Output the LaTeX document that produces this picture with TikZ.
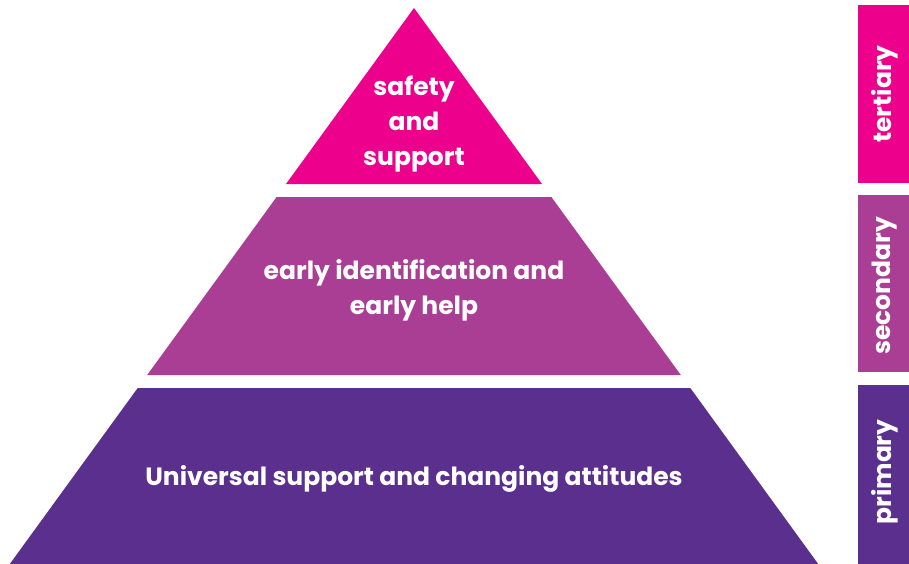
\documentclass[tikz,border=0pt]{standalone}
\usepackage{fontspec}
\setmainfont{Poppins}
\usetikzlibrary{positioning}
\definecolor{tertcol}{RGB}{236,0,140}
\definecolor{seccol}{RGB}{169,62,148}
\definecolor{primcol}{RGB}{91,47,141}
\tikzset{
  % lvl style is used for the white texts inside the pyramid
  lvl/.style={text=white, align=center, inner sep=0pt, font=\fontsize{25}{35}\selectfont\bfseries},
  % tag style is used for the turned labels of the side bars
  tag/.style={text=white, rotate=90, inner sep=0pt, font=\fontsize{25}{26}\selectfont\bfseries}}

\begin{document}
\begin{tikzpicture}[x=1pt, y=-1pt]
\useasboundingbox (0,0) rectangle (909,564);

% pyramid, one band after the other
\fill [tertcol] (414,8) -- (542,184) -- (286,184) -- cycle;
\fill [seccol] (276.6,197) -- (551.4,197) -- (680.8,375) -- (147.2,375) -- cycle;
\fill [primcol] (137.7,388) -- (690.3,388) -- (818.2,564) -- (9.8,564) -- cycle;

\draw (414,124) node (tert) [lvl] {safety\\and\\support};
\draw (414,290) node (sec) [lvl] {early identification and\\early help};
\draw (414,479) node (prim) [lvl] {Universal support and changing attitudes};

% bars on the right
\fill [tertcol] (858,5) rectangle (909,183);
\fill [seccol] (858,195) rectangle (909,372);
\fill [primcol] (858,385) rectangle (909,564);

\draw (885,94) node (tertbar) [tag] {tertiary};
\draw (885,286) node (secbar) [tag] {secondary};
\draw (885,472) node (primbar) [tag] {primary};

\end{tikzpicture}
\end{document}
